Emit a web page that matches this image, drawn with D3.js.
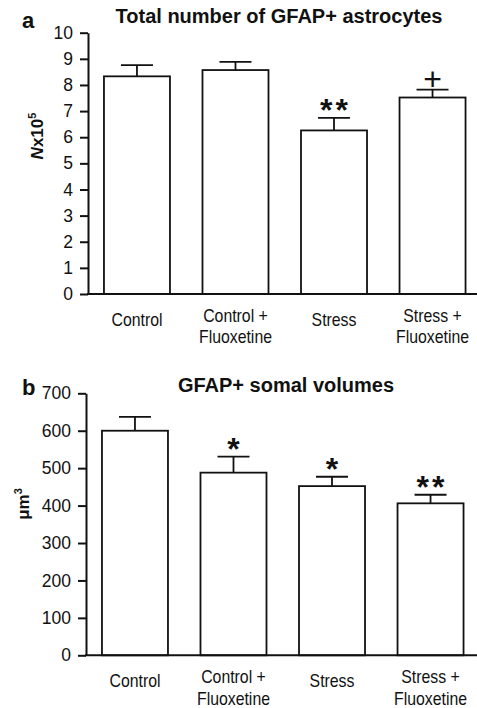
<!DOCTYPE html>
<html>
<head>
<meta charset="utf-8">
<script src="https://cdn.jsdelivr.net/npm/d3@7"></script>
<style>
  body { margin: 0; background: #fff; }
  svg { display: block; font-family: "Liberation Sans", Arial, Helvetica, sans-serif; }
</style>
</head>
<body>
<div id="chart"></div>
<script>
// Groups (two-line labels where the figure breaks them)
const groups = ["Control", "Control + Fluoxetine", "Stress", "Stress + Fluoxetine"];
const groupLines = [["Control"], ["Control +", "Fluoxetine"], ["Stress"], ["Stress +", "Fluoxetine"]];

// Panel a: total number of GFAP+ astrocytes (x10^5)
const astroMean = [8.33, 8.57, 6.26, 7.52];
const astroSem = [0.43, 0.31, 0.48, 0.30];
const astroMarks = ["", "", "**", "+"];
const astroTicks = [0, 1, 2, 3, 4, 5, 6, 7, 8, 9, 10];

// Panel b: GFAP+ somal volumes (um^3)
const somaMean = [600, 488, 452, 406];
const somaSem = [37, 43, 25, 23];
const somaMarks = ["", "*", "*", "**"];
const somaTicks = [0, 100, 200, 300, 400, 500, 600, 700];

const width = 477, height = 708;

const svg = d3.select("#chart")
  .append("svg")
  .attr("width", width)
  .attr("height", height);

function drawPanel(p) {
  const g = svg.append("g");

  const x = d3.scaleBand()
    .domain(groups)
    .range([p.left, p.left + 393.5])
    .paddingInner(0.33)
    .paddingOuter(0.162);

  const y = d3.scaleLinear()
    .domain([0, d3.max(p.ticks)])
    .range([p.bottom, p.top]);

  // bars
  g.selectAll("rect.bar")
    .data(p.mean)
    .enter()
    .append("rect")
    .attr("class", "bar")
    .attr("x", (d, i) => x(groups[i]))
    .attr("y", d => y(d))
    .attr("width", x.bandwidth())
    .attr("height", d => y(0) - y(d))
    .attr("fill", "#fff")
    .attr("stroke", "#111")
    .attr("stroke-width", 1.8);

  // error bars (upper only)
  const err = g.selectAll("g.err")
    .data(p.mean)
    .enter()
    .append("g")
    .attr("class", "err")
    .attr("stroke", "#111")
    .attr("stroke-width", 1.8);

  err.append("line")
    .attr("x1", (d, i) => x(groups[i]) + x.bandwidth() / 2)
    .attr("x2", (d, i) => x(groups[i]) + x.bandwidth() / 2)
    .attr("y1", d => y(d))
    .attr("y2", (d, i) => y(d + p.sem[i]));

  err.append("line")
    .attr("x1", (d, i) => x(groups[i]) + x.bandwidth() / 2 - 16)
    .attr("x2", (d, i) => x(groups[i]) + x.bandwidth() / 2 + 16)
    .attr("y1", (d, i) => y(d + p.sem[i]))
    .attr("y2", (d, i) => y(d + p.sem[i]));

  // significance marks
  g.selectAll("text.mark")
    .data(p.marks)
    .enter()
    .append("text")
    .attr("class", "mark")
    .attr("text-anchor", "middle")
    .attr("x", (d, i) => x(groups[i]) + x.bandwidth() / 2 + (d.length > 1 ? 1.5 : 0))
    .attr("y", (d, i) => {
      const top = y(p.mean[i] + p.sem[i]);
      return d === "+" ? top - 10.5 + 0.35 * 32 : top - 15 + 0.575 * 32;
    })
    .attr("font-size", 32)
    .attr("font-weight", d => d === "+" ? "normal" : "bold")
    .attr("letter-spacing", d => d.length > 1 ? 3 : 0)
    .attr("fill", "#111")
    .text(d => d);

  // y axis
  const yAxis = g.append("g")
    .attr("transform", `translate(${p.left},0)`)
    .call(d3.axisLeft(y).tickValues(p.ticks).tickSize(8).tickSizeOuter(0).tickPadding(7));
  yAxis.select(".domain").attr("stroke", "#111").attr("stroke-width", 2);
  yAxis.selectAll(".tick line").attr("stroke", "#111").attr("stroke-width", 2);
  yAxis.selectAll(".tick text")
    .attr("font-size", 17.5)
    .attr("font-family", "Liberation Sans, Arial, sans-serif")
    .attr("fill", "#111");

  // x axis line
  g.append("line")
    .attr("x1", p.left - 1)
    .attr("x2", width)
    .attr("y1", y(0))
    .attr("y2", y(0))
    .attr("stroke", "#111")
    .attr("stroke-width", 2);

  // category labels
  const lab = g.selectAll("text.cat")
    .data(groupLines)
    .enter()
    .append("text")
    .attr("class", "cat")
    .attr("text-anchor", "middle")
    .attr("font-size", 18)
    .attr("fill", "#111")
    .attr("transform", (d, i) => {
      const cx = x(groups[i]) + x.bandwidth() / 2;
      const by = y(0) + (d.length > 1 ? 27.5 : 31.5);
      return `translate(${cx},${by}) scale(0.88,1)`;
    });
  lab.selectAll("tspan")
    .data(d => d)
    .enter()
    .append("tspan")
    .attr("x", 0)
    .attr("dy", (d, j) => j === 0 ? 0 : 22)
    .text(d => d);

  // title
  g.append("text")
    .attr("x", p.titleX)
    .attr("y", p.titleY)
    .attr("text-anchor", "middle")
    .attr("font-size", 20)
    .attr("font-weight", "bold")
    .attr("fill", "#111")
    .text(p.title);

  // panel letter
  g.append("text")
    .attr("x", 22)
    .attr("y", p.letterY)
    .attr("font-size", 22)
    .attr("font-weight", "bold")
    .attr("fill", "#111")
    .text(p.letter);

  // y label
  const yl = g.append("text")
    .attr("transform", `translate(${p.ylabX},${p.ylabY}) rotate(-90)`)
    .attr("text-anchor", "middle")
    .attr("font-size", 17)
    .attr("font-weight", "bold")
    .attr("fill", "#111");
  p.ylabel(yl);
}

drawPanel({
  left: 88, top: 32.7, bottom: 294,
  mean: astroMean, sem: astroSem, marks: astroMarks, ticks: astroTicks,
  title: "Total number of GFAP+ astrocytes", titleX: 279, titleY: 23,
  letter: "a", letterY: 28,
  ylabX: 43, ylabY: 136,
  ylabel: t => {
    t.append("tspan").attr("font-style", "italic").text("N");
    t.append("tspan").text("x10");
    t.append("tspan").attr("font-size", 11).attr("dy", -7).text("5");
  }
});

drawPanel({
  left: 86, top: 393.3, bottom: 655.3,
  mean: somaMean, sem: somaSem, marks: somaMarks, ticks: somaTicks,
  title: "GFAP+ somal volumes", titleX: 286, titleY: 392,
  letter: "b", letterY: 395,
  ylabX: 29, ylabY: 504,
  ylabel: t => {
    t.append("tspan").text("μm");
    t.append("tspan").attr("font-size", 11).attr("dy", -7).text("3");
  }
});
</script>
</body>
</html>
